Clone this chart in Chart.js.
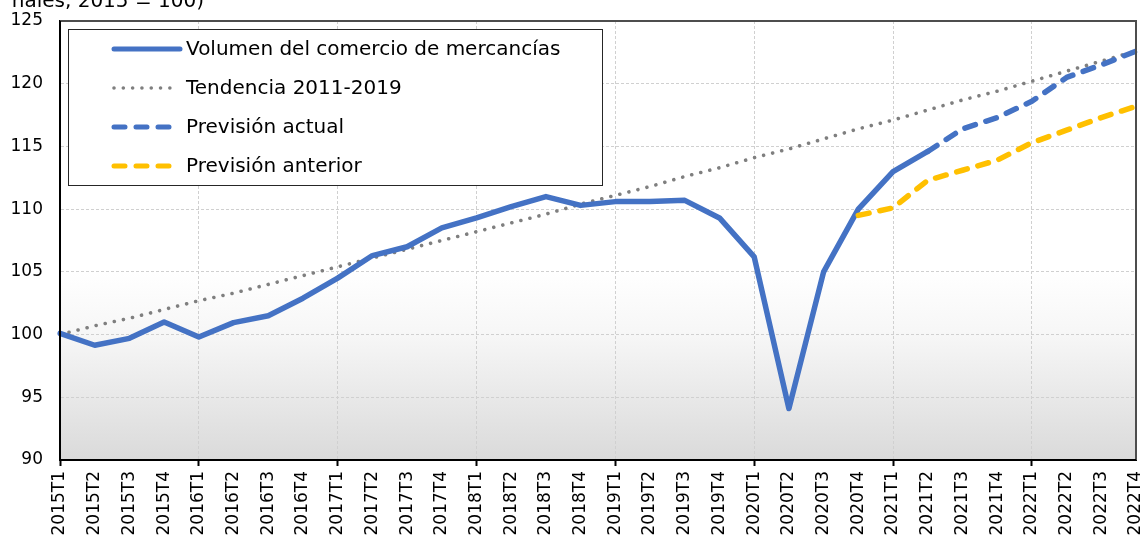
<!DOCTYPE html>
<html>
<head>
<meta charset="utf-8">
<script src="https://cdn.jsdelivr.net/npm/chart.js@4/dist/chart.umd.min.js"></script>
<style>
  html, body { margin: 0; padding: 0; background: #ffffff; }
  #wrap { position: relative; width: 1144px; height: 540px; }
  canvas { display: block; }
</style>
</head>
<body>
<div id="wrap"><canvas id="c" width="1144" height="540"></canvas></div>
<script>
// ---- Data ----
const categories = [
  '2015T1','2015T2','2015T3','2015T4',
  '2016T1','2016T2','2016T3','2016T4',
  '2017T1','2017T2','2017T3','2017T4',
  '2018T1','2018T2','2018T3','2018T4',
  '2019T1','2019T2','2019T3','2019T4',
  '2020T1','2020T2','2020T3','2020T4',
  '2021T1','2021T2','2021T3','2021T4',
  '2022T1','2022T2','2022T3','2022T4'
];
const volumen = [
  100.1, 99.15, 99.7, 101.0,
  99.8, 100.95, 101.5, 102.9,
  104.5, 106.3, 107.0, 108.5,
  109.3, 110.2, 111.0, 110.3,
  110.6, 110.6, 110.7, 109.3,
  106.2, 94.1, 105.0, 110.0,
  113.0, 114.6, null, null,
  null, null, null, null
];
const tendencia = [
  100.0, 100.7, 101.3, 102.0,
  102.7, 103.3, 104.0, 104.7,
  105.4, 106.1, 106.8, 107.5,
  108.2, 108.9, 109.6, 110.4,
  111.1, 111.8, 112.6, 113.3,
  114.1, 114.8, 115.6, 116.4,
  117.1, 117.9, 118.7, 119.4,
  120.2, 121.0, 121.8, 122.6
];
const previsionActual = [
  null, null, null, null, null, null, null, null,
  null, null, null, null, null, null, null, null,
  null, null, null, null, null, null, null, null,
  null, 114.6, 116.4, 117.3,
  118.6, 120.5, 121.5, 122.6
];
const previsionAnterior = [
  null, null, null, null, null, null, null, null,
  null, null, null, null, null, null, null, null,
  null, null, null, null, null, null, null, 109.5,
  110.1, 112.3, 113.1, 113.9,
  115.3, 116.3, 117.3, 118.2
];
const seriesNames = [
  'Volumen del comercio de mercancías',
  'Tendencia 2011-2019',
  'Previsión actual',
  'Previsión anterior'
];
const yTicks = [90, 95, 100, 105, 110, 115, 120, 125];
const headerText = 'nales, 2015 = 100)';

// ---- Styles ----
const FONT = 'DejaVu Sans, Verdana, sans-serif';
const BLUE = '#4472C4';
const YELLOW = '#FFC000';
const GREY = '#7f7f7f';

const bgPlugin = {
  id: 'bgPlugin',
  beforeDraw(chart) {
    const {ctx, chartArea: a} = chart;
    const g = ctx.createLinearGradient(0, a.top, 0, a.bottom);
    g.addColorStop(0, '#ffffff');
    g.addColorStop(0.57, '#ffffff');
    g.addColorStop(0.72, '#f6f6f6');
    g.addColorStop(1, '#dadada');
    ctx.save();
    ctx.fillStyle = g;
    ctx.fillRect(a.left, a.top, a.right - a.left, a.bottom - a.top);
    ctx.restore();
  }
};

const framePlugin = {
  id: 'framePlugin',
  afterDatasetsDraw(chart) {
    const {ctx, chartArea: a} = chart;
    ctx.save();
    ctx.strokeStyle = '#4d4d4d';
    ctx.lineWidth = 2;
    ctx.beginPath();
    ctx.moveTo(a.left, a.top);
    ctx.lineTo(a.right, a.top);
    ctx.lineTo(a.right, a.bottom);
    ctx.stroke();
    ctx.strokeStyle = '#000000';
    ctx.beginPath();
    ctx.moveTo(a.left, a.top);
    ctx.lineTo(a.left, a.bottom);
    ctx.lineTo(a.right, a.bottom);
    ctx.stroke();
    ctx.restore();
  }
};

const legendPlugin = {
  id: 'legendPlugin',
  afterDraw(chart) {
    const {ctx, chartArea: a} = chart;
    const bx = a.left + 8.5, by = a.top + 8.5, bw = 534, bh = 156;
    ctx.save();
    ctx.fillStyle = '#ffffff';
    ctx.fillRect(bx, by, bw, bh);
    ctx.strokeStyle = '#262626';
    ctx.lineWidth = 1;
    ctx.strokeRect(bx, by, bw, bh);
    const rowY = [49, 88, 127, 166];
    ctx.font = '20px ' + FONT;
    ctx.textBaseline = 'middle';
    ctx.textAlign = 'left';
    seriesNames.forEach((name, r) => {
      const ds = chart.data.datasets.find(d => d.label === name);
      const y = rowY[r];
      ctx.save();
      ctx.strokeStyle = ds.borderColor;
      ctx.lineWidth = Math.min(ds.borderWidth, 5);
      ctx.lineCap = 'round';
      ctx.setLineDash(ds.borderDash || []);
      ctx.beginPath();
      const x0 = 114, x1 = r === 0 ? 180 : 176;
      ctx.moveTo(x0, y);
      ctx.lineTo(x1, y);
      ctx.stroke();
      ctx.restore();
      ctx.fillStyle = '#000000';
      ctx.fillText(ds.label, 186, y + 1);
    });
    ctx.restore();
  }
};

const headerPlugin = {
  id: 'headerPlugin',
  afterDraw(chart) {
    const {ctx} = chart;
    ctx.save();
    ctx.font = '20px ' + FONT;
    ctx.fillStyle = '#000000';
    ctx.textAlign = 'right';
    ctx.textBaseline = 'alphabetic';
    ctx.fillText(headerText, 204, 7);
    ctx.restore();
  }
};

const datasets = [
  {
    label: seriesNames[0], data: volumen,
    borderColor: BLUE, backgroundColor: BLUE, borderWidth: 5.5,
    borderCapStyle: 'round', borderJoinStyle: 'round',
    pointRadius: 0, tension: 0, spanGaps: false, order: 2
  },
  {
    label: seriesNames[1], data: tendencia,
    borderColor: GREY, backgroundColor: GREY, borderWidth: 3.6,
    borderDash: [0.01, 9.3], borderCapStyle: 'round',
    pointRadius: 0, tension: 0, order: 3
  },
  {
    label: seriesNames[2], data: previsionActual,
    borderColor: BLUE, backgroundColor: BLUE, borderWidth: 5.5,
    borderDash: [11, 11], borderCapStyle: 'round', borderJoinStyle: 'round',
    pointRadius: 0, tension: 0, order: 1
  },
  {
    label: seriesNames[3], data: previsionAnterior,
    borderColor: YELLOW, backgroundColor: YELLOW, borderWidth: 5.5,
    borderDash: [11, 11], borderCapStyle: 'round', borderJoinStyle: 'round',
    pointRadius: 0, tension: 0, order: 0
  }
];

new Chart(document.getElementById('c'), {
  type: 'line',
  data: { labels: categories, datasets },
  options: {
    responsive: false,
    animation: false,
    devicePixelRatio: 1,
    layout: { padding: { left: 0, right: 8, top: 21, bottom: 0 } },
    plugins: {
      legend: { display: false },
      tooltip: { enabled: false },
      title: { display: false }
    },
    scales: {
      x: {
        type: 'category',
        offset: false,
        grid: {
          display: true,
          drawOnChartArea: true,
          drawTicks: true,
          tickLength: 6,
          lineWidth: 1,
          color: (c) => (c.index % 4 === 0 ? '#d0d0d0' : 'rgba(0,0,0,0)'),
          tickColor: (c) => (c.index % 4 === 0 ? '#000000' : 'rgba(0,0,0,0)'),
          tickWidth: 2
        },
        border: { display: true, color: '#000000', width: 2, dash: [3, 2] },
        ticks: {
          autoSkip: false,
          maxRotation: 90,
          minRotation: 90,
          padding: 5,
          color: '#000000',
          font: { family: FONT, size: 17 }
        },
        afterFit(scale) {
          scale.height = 80;
          scale.paddingLeft = 0;
          scale.paddingRight = 0;
        }
      },
      y: {
        min: 90,
        max: 125,
        afterBuildTicks(scale) {
          scale.ticks = yTicks.map(v => ({ value: v }));
        },
        grid: {
          display: true,
          drawTicks: false,
          color: '#d0d0d0',
          lineWidth: 1
        },
        border: { display: true, color: '#000000', width: 2, dash: [3, 2] },
        ticks: {
          padding: 17,
          color: '#000000',
          font: { family: FONT, size: 17 }
        },
        afterFit(scale) {
          scale.width = 60;
          scale.paddingTop = 0;
          scale.paddingBottom = 0;
        }
      }
    }
  },
  plugins: [bgPlugin, framePlugin, legendPlugin, headerPlugin]
});
</script>
</body>
</html>
